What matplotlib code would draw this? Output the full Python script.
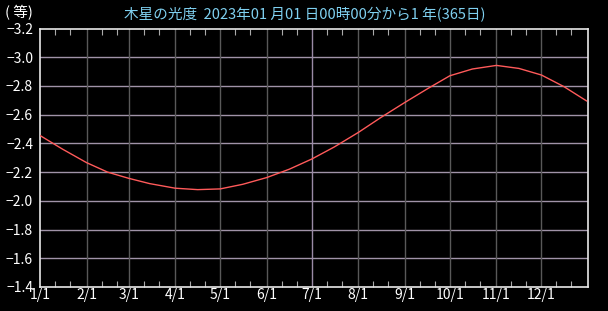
import numpy as np
import matplotlib
matplotlib.use("Agg")
import matplotlib.pyplot as plt

plt.rcParams['font.family'] = ['Noto Sans CJK JP', 'DejaVu Sans']

# day of year (0 = 1/1) and magnitude of Jupiter
days = [0, 15, 31, 45, 59, 73, 90, 105, 120, 135, 151, 166, 181, 196,
        212, 227, 243, 258, 273, 288, 304, 319, 334, 349, 364]
mag = [-2.455, -2.36, -2.266, -2.20, -2.157, -2.12, -2.088, -2.078, -2.083,
       -2.115, -2.162, -2.22, -2.291, -2.375, -2.476, -2.58, -2.685, -2.78,
       -2.871, -2.918, -2.943, -2.922, -2.876, -2.795, -2.696]

month_starts = [0, 31, 59, 90, 120, 151, 181, 212, 243, 273, 304, 334]
month_labels = ['1/1', '2/1', '3/1', '4/1', '5/1', '6/1', '7/1', '8/1',
                '9/1', '10/1', '11/1', '12/1']
yticks = [-3.2, -3.0, -2.8, -2.6, -2.4, -2.2, -2.0, -1.8, -1.6, -1.4]

title = '木星の光度  2023年01 月01 日00時00分から1 年(365日)'

fig = plt.figure(figsize=(6.08, 3.11), dpi=100, facecolor='black')
ax = fig.add_axes([40 / 608, 24 / 311, 548 / 608, 258.5 / 311])
ax.set_facecolor('black')

# grid
for y in yticks[1:-1]:
    ax.axhline(y, color='#a093a8', lw=1.0, zorder=1)
for i, d in enumerate(month_starts[1:]):
    c = '#9a8aa6' if month_labels[i + 1] == '7/1' else '#595959'
    ax.axvline(d, color=c, lw=1.0, zorder=1)

ax.plot(days, mag, color='#ff5a5a', lw=1.0, zorder=3)

ax.set_xlim(0, 365)
ax.set_ylim(-1.4, -3.2)

ax.set_xticks(month_starts)
ax.set_xticklabels(month_labels)
minor = [m + k for m in month_starts for k in (10, 20) if m + k < 365]
ax.set_xticks(minor, minor=True)
ax.tick_params(axis='x', which='major', length=0, colors='white',
               labelsize=10, pad=1)
ax.tick_params(axis='x', which='minor', direction='in', length=4,
               top=True, bottom=True, color='#aaaaaa', width=0.8)
ax.set_yticks(yticks)
ax.set_yticklabels([f'\u2212{abs(v):.1f}' for v in yticks])
ax.tick_params(axis='y', length=0, colors='white', labelsize=10, pad=5)

for s in ax.spines.values():
    s.set_color('#e8e8e8')
    s.set_linewidth(1.2)

fig.text(305 / 608, 1 - 15 / 311, title, color='#7fd0f0', fontsize=10.5,
         ha='center', va='center')
fig.text(5 / 608, 1 - 13 / 311, '( 等)', color='white', fontsize=10.5,
         ha='left', va='center')

fig.savefig('out.png', dpi=100, facecolor='black')
